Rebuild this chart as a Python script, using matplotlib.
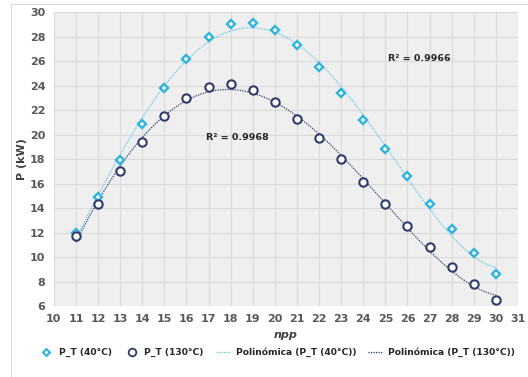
import numpy as np
import matplotlib
matplotlib.use("Agg")
import matplotlib.pyplot as plt
from matplotlib.lines import Line2D

# data
npp = [11, 12, 13, 14, 15, 16, 17, 18, 19, 20, 21, 22, 23, 24, 25, 26, 27, 28, 29, 30]
p_40 = [12.0, 14.9, 17.9, 20.9, 23.8, 26.2, 28.0, 29.0, 29.1, 28.5,
        27.3, 25.5, 23.4, 21.2, 18.8, 16.6, 14.3, 12.3, 10.3, 8.6]
p_130 = [11.7, 14.3, 17.0, 19.4, 21.5, 23.0, 23.9, 24.1, 23.6, 22.7,
         21.3, 19.7, 18.0, 16.1, 14.3, 12.5, 10.8, 9.2, 7.8, 6.5]
r2_labels = ["R² = 0.9966", "R² = 0.9968"]
labels = ["P_T (40°C)", "P_T (130°C)", "Polinómica (P_T (40°C))", "Polinómica (P_T (130°C))"]

c40 = "#2fb3dd"
c130 = "#2e3b6b"
tick_col = "#595959"

fig = plt.figure(figsize=(5.28, 3.77), dpi=100)
fig.patch.set_facecolor("white")
ax = fig.add_axes([0.102, 0.188, 0.879, 0.780])
ax.set_facecolor("#efefef")

# polynomial trend lines (like Excel's trendline)
xs = np.linspace(npp[0], npp[-1], 200)
fit40 = np.polyval(np.polyfit(npp, p_40, 4), xs)
fit130 = np.polyval(np.polyfit(npp, p_130, 4), xs)
ax.plot(xs, fit40, color="#5cc6e3", lw=0.9, ls=(0, (1, 1)), zorder=2)
ax.plot(xs, fit130, color=c130, lw=0.9, ls=(0, (1, 1)), zorder=2)

ax.plot(npp, p_40, ls="none", marker="D", ms=4, mfc="white", mec=c40, mew=1.7, zorder=3)
ax.plot(npp, p_130, ls="none", marker="o", ms=6, mfc="white", mec=c130, mew=1.5, zorder=3)

ax.set_xlim(10, 31)
ax.set_ylim(6, 30)
ax.set_xticks(range(10, 32))
ax.set_yticks(range(6, 31, 2))
ax.grid(True, color="#dadada", lw=0.8, zorder=0)
ax.set_axisbelow(True)
for s in ax.spines.values():
    s.set_visible(False)
ax.tick_params(length=0, labelsize=8, colors=tick_col, pad=6)
for lab in ax.get_xticklabels() + ax.get_yticklabels():
    lab.set_fontweight("bold")

ax.set_xlabel("npp", fontsize=8, fontweight="bold", style="italic", color="#404040", labelpad=4)
ax.set_ylabel("P (kW)", fontsize=8, fontweight="bold", color="#404040", labelpad=2)

ax.text(25.1, 26.2, r2_labels[0], fontsize=6.8, fontweight="bold", color="#262626", va="center")
ax.text(16.9, 19.8, r2_labels[1], fontsize=6.8, fontweight="bold", color="#262626", va="center")

handles = [
    Line2D([], [], ls="none", marker="D", ms=3.5, mfc="white", mec=c40, mew=1.5),
    Line2D([], [], ls="none", marker="o", ms=5.5, mfc="white", mec=c130, mew=1.3),
    Line2D([], [], color="#5cc6e3", lw=0.9, ls=(0, (1, 1))),
    Line2D([], [], color=c130, lw=0.9, ls=(0, (1, 1))),
]
leg = fig.legend(handles, labels, loc="center", bbox_to_anchor=(0.525, 0.065), ncol=4,
                 frameon=False, handlelength=1.6, columnspacing=1.3, handletextpad=0.6,
                 prop={"weight": "bold", "size": 6.6})
for t in leg.get_texts():
    t.set_color("#262626")

# chart border
fig.add_artist(plt.Rectangle((0.021, -0.01), 0.99, 1.0, transform=fig.transFigure,
                             fill=False, ec="#d9d9d9", lw=0.8))

fig.savefig("out.png", dpi=100)
